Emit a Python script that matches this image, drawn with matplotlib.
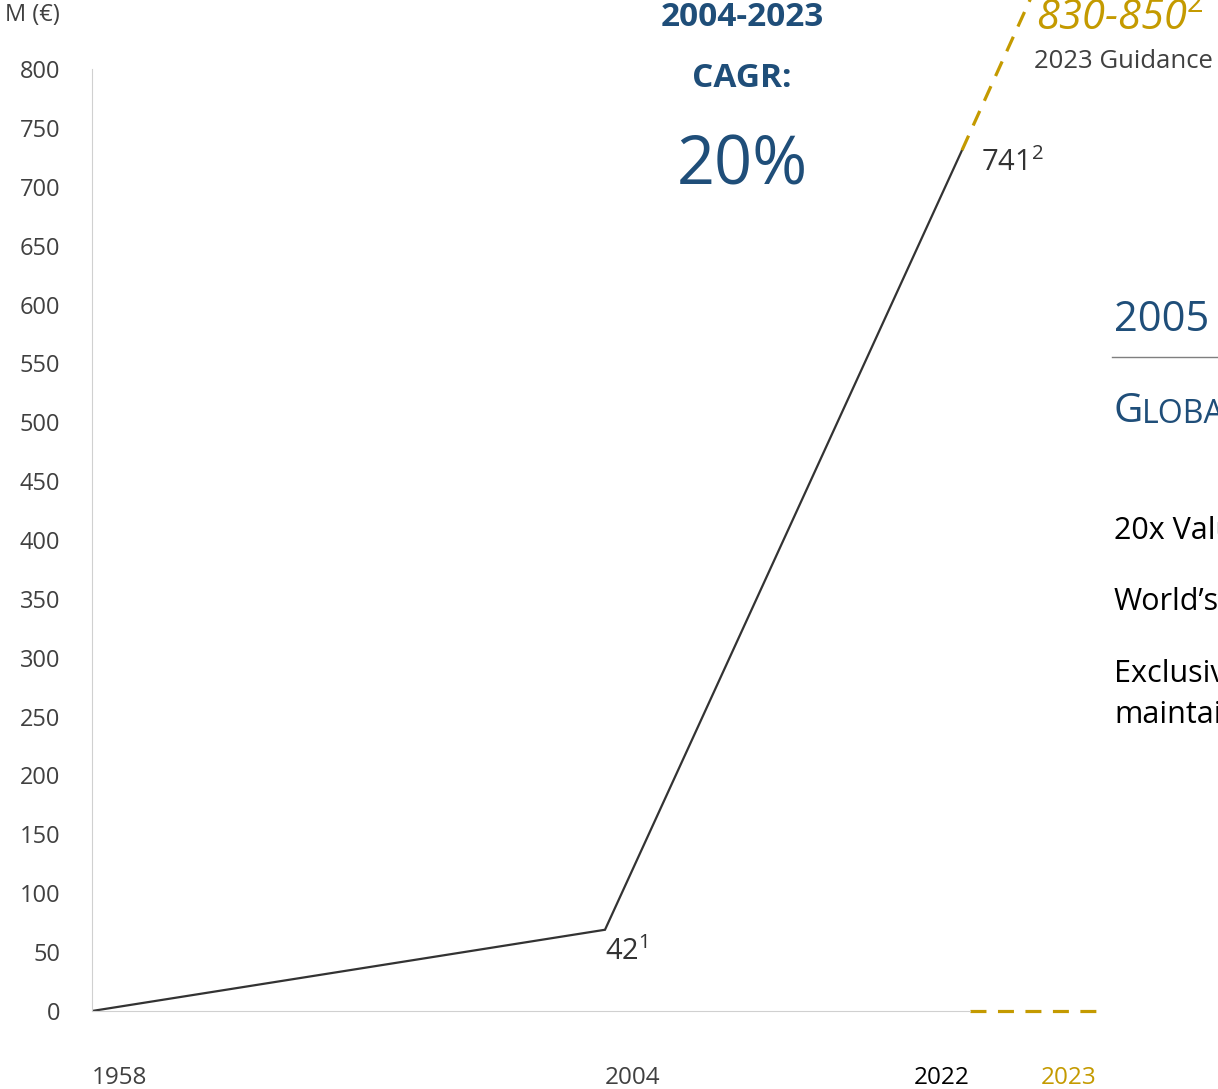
import matplotlib.pyplot as plt

# Values (plotted heights), with the labels shown on them
years = ['1958', '2004', '2022']
values = [0, 69, 731]
point_labels = [None, '42$^{1}$', '741$^{2}$']

guidance_label = '830-850$^{\\mathit{2}}$'
guidance_values = [731, 885]     # dashed projection beyond 2022

y_ticks = list(range(0, 801, 50))

# layout: horizontal position of each year along the axis (not to scale)
x_pos = [0, 513, 870]
guide_x = [870, 952]
x_end = 1005
base_dash = [878, x_end]

W, H = 1218, 1089
blue = '#1F4E79'
gold = '#C49A00'
grey = '#404040'

plt.rcParams['font.family'] = ['Open Sans', 'DejaVu Sans']
plt.rcParams['mathtext.fontset'] = 'custom'
plt.rcParams['mathtext.rm'] = 'Open Sans'
plt.rcParams['mathtext.it'] = 'Open Sans:italic'

def fx(x):
    return x / W

def fy(y):
    return 1 - y / H

fig = plt.figure(figsize=(W / 100, H / 100), dpi=100)
ax = fig.add_axes([fx(92), fy(1011), fx(1097) - fx(92), fy(69) - fy(1011)])

ax.plot(x_pos, values, color='#333333', lw=1.6, solid_joinstyle='miter')
ax.plot(guide_x, guidance_values, color=gold, lw=2.3, ls=(0, (5, 3.5)), clip_on=False)
ax.plot(base_dash, [0, 0], color=gold, lw=2.3, ls=(0, (5, 3.6)), clip_on=False)

ax.set_xlim(0, x_end)
ax.set_ylim(0, 800)
ax.set_yticks(y_ticks)
ax.tick_params(axis='y', length=0, pad=23, labelsize=17, labelcolor=grey)
ax.set_xticks([])
for s in ['top', 'right']:
    ax.spines[s].set_visible(False)
ax.spines['left'].set_color('#D0D0D0')
ax.spines['bottom'].set_color('#D0D0D0')
ax.spines['bottom'].set_bounds(0, base_dash[0])

# year labels under the axis
yl = -57
ax.text(x_pos[0], yl, years[0], ha='left', va='center', fontsize=17.5, color=grey)
ax.text(x_pos[1], yl, years[1], ha='left', va='center', fontsize=17.5, color=grey)
ax.text(base_dash[0], yl, years[2], ha='right', va='center', fontsize=17.5, color='black')
ax.text(x_end, yl, '2023', ha='right', va='center', fontsize=17.5, color=gold)

# point labels
ax.annotate(point_labels[1], (x_pos[1], values[1]), xytext=(0, -5), textcoords='offset points',
            ha='left', va='top', fontsize=21, color='#333333')
ax.annotate(point_labels[2], (x_pos[2], values[2]), xytext=(14, -9), textcoords='offset points',
            ha='left', va='center', fontsize=21, color='#333333')

# headline texts
fig.text(fx(5), fy(15), 'M (€)', ha='left', va='center', fontsize=17, color=grey)
fig.text(fx(742), fy(18), '2004-2023', ha='center', va='center', fontsize=24,
         fontweight='bold', color=blue)
fig.text(fx(742), fy(78), 'CAGR:', ha='center', va='center', fontsize=24,
         fontweight='bold', color=blue)
fig.text(fx(742), fy(167), '20%', ha='center', va='center', fontsize=48, color=blue)

fig.text(fx(1036), fy(19), guidance_label, ha='left', va='center', fontsize=30,
         style='italic', color=gold)
fig.text(fx(1034), fy(61), '2023 Guidance', ha='left', va='center', fontsize=18.5, color=grey)

# side panel (cut off at the right edge)
fig.text(fx(1114), fy(320), '2005', ha='left', va='center', fontsize=30, color=blue)
fig.add_artist(plt.Line2D([fx(1112), fx(1218)], [fy(357), fy(357)], color='#7F7F7F', lw=1))
fig.text(fx(1114), fy(412), 'G', ha='left', va='center', fontsize=29, color=blue)
fig.text(fx(1142), fy(414), 'LOBAL', ha='left', va='center', fontsize=23, color=blue)
fig.text(fx(1114), fy(531), '20x Value', ha='left', va='center', fontsize=22, color='black')
fig.text(fx(1114), fy(602), 'World’s', ha='left', va='center', fontsize=22, color='black')
fig.text(fx(1114), fy(674), 'Exclusive', ha='left', va='center', fontsize=22, color='black')
fig.text(fx(1114), fy(715), 'maintain', ha='left', va='center', fontsize=22, color='black')

fig.savefig('out.png', dpi=100)
